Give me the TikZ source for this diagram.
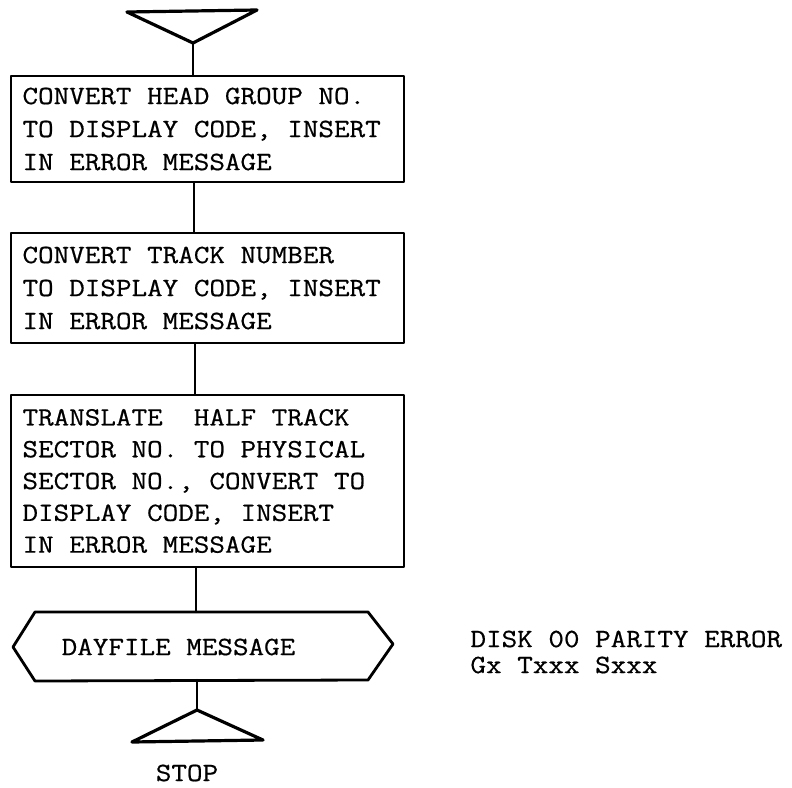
\documentclass[tikz,border=0pt]{standalone}
\usepackage{fontspec}
\newfontfamily\tw[FakeStretch=1.15,FakeBold=0.6]{Latin Modern Mono}
\newcommand\fixsp{\spaceskip=0pt\relax\xspaceskip=0pt\relax}
\begin{document}
\begin{tikzpicture}[x=1bp,y=-1bp,line join=round,line cap=round,
  txt/.style={font=\tw\fontsize{26.3bp}{33bp}\selectfont},
  procbox/.style={txt,draw,line width=2.6bp,rectangle,minimum width=393bp,
    text width=370bp,inner xsep=11.5bp,inner ysep=0pt,align=left},
  flow/.style={line width=2.2bp},
  term/.style={line width=3.2bp}]
\useasboundingbox (0,0) rectangle (792,788);
% top connector triangle
\coordinate (t1l) at (127,12);
\coordinate (t1r) at (257,10);
\coordinate (t1a) at (193,43);
\draw[term] (t1l) -- (t1r) -- (t1a) -- cycle;
% boxes
\node[procbox,minimum height=106bp] (b1) at (207.5,129)
  {\fixsp CONVERT HEAD GROUP NO.\\TO DISPLAY CODE, INSERT\\IN ERROR MESSAGE};
\node[procbox,minimum height=110bp] (b2) at (207.5,288)
  {\fixsp CONVERT TRACK NUMBER\\TO DISPLAY CODE, INSERT\\IN ERROR MESSAGE};
\node[procbox,minimum height=172bp,font=\tw\fontsize{26.3bp}{31.8bp}\selectfont] (b3) at (207.5,481)
  {\fixsp TRANSLATE\ \ HALF TRACK\\SECTOR NO. TO PHYSICAL\\SECTOR NO., CONVERT TO\\DISPLAY CODE, INSERT\\IN ERROR MESSAGE};
% display (dayfile) shape
\coordinate (hl) at (13,647);
\coordinate (htl) at (35,612);
\coordinate (htr) at (368,612);
\coordinate (hr) at (393,644);
\coordinate (hbr) at (368,680);
\coordinate (hbl) at (35,681);
\draw[line width=2.8bp] (hl) -- (htl) -- (htr) -- (hr) -- (hbr) -- (hbl) -- cycle;
\node[txt,anchor=center] (day) at (178.5,647) {DAYFILE MESSAGE};
\coordinate (htop) at (196,612);
\coordinate (hbot) at (197,680);
% bottom terminal triangle
\coordinate (t2a) at (197,710);
\coordinate (t2l) at (132,742);
\coordinate (t2r) at (263,740);
\draw[term] (t2a) -- (t2l) -- (t2r) -- cycle;
\node[txt] (stop) at (187,773) {STOP};
% connectors
\draw[flow] (t1a) -- (t1a |- b1.north);
\draw[flow] (b1.south -| 194,0) -- (b2.north -| 194,0);
\draw[flow] (b2.south -| 195,0) -- (b3.north -| 195,0);
\draw[flow] (b3.south -| htop) -- (htop);
\draw[flow] (hbot) -- (t2a);
% message text
\node[txt,anchor=west,align=left,font=\tw\fontsize{26.3bp}{26bp}\selectfont] (msg) at (467,652)
  {\fixsp DISK 00 PARITY ERROR\\Gx Txxx Sxxx};
\end{tikzpicture}
\end{document}
